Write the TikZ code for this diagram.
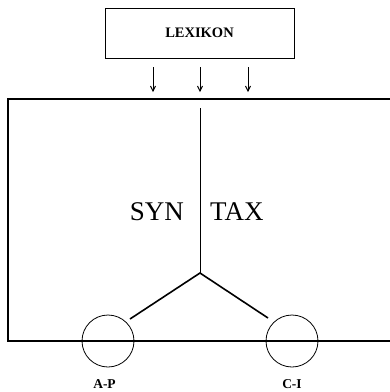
\documentclass[tikz,border=0pt]{standalone}
\usepackage{fontspec}
\setmainfont{Liberation Serif}
\usetikzlibrary{arrows.meta}
\begin{document}
\begin{tikzpicture}[x=1pt,y=-1pt,
  frame/.style={line width=1.3pt},
  arr/.style={-{Straight Barb[length=5pt,width=5pt]},line width=0.9pt},
  ring/.style={circle,draw,line width=0.8pt,minimum size=52pt,inner sep=0pt},
  lbl/.style={font=\fontsize{13.5}{15}\selectfont\bfseries}]
\useasboundingbox (0,0) rectangle (390,392);
\node[draw,line width=0.9pt,minimum width=189pt,minimum height=50pt,inner sep=0pt,font=\fontsize{14.5}{16}\selectfont\bfseries] (lex) at (199.5,33) {LEXIKON};
\coordinate (tl) at (8,99);
\coordinate (tr) at (392,99);
\coordinate (bl) at (8,341);
\coordinate (br) at (392,341);
\draw[frame] (tr) -- (tl) -- (bl) -- (br);
\coordinate (a1s) at (153,67); \coordinate (a1e) at (153,92);
\coordinate (a2s) at (200,67); \coordinate (a2e) at (200,92);
\coordinate (a3s) at (248,67); \coordinate (a3e) at (248,92);
\draw[arr] (a1s) -- (a1e);
\draw[arr] (a2s) -- (a2e);
\draw[arr] (a3s) -- (a3e);
\coordinate (top) at (200,108);
\coordinate (j) at (200,273);
\draw[line width=1pt] (top) -- (j);
\node[anchor=base east,font=\fontsize{27}{30}\selectfont,inner sep=0pt] (syn) at (184,220) {SYN};
\node[anchor=base west,font=\fontsize{27}{30}\selectfont,inner sep=0pt] (tax) at (210,220) {TAX};
\node[ring] (ap) at (108,341) {};
\node[ring] (ci) at (292,341) {};
\coordinate (d1) at (130,319);
\coordinate (d2) at (268,318);
\draw[line width=1.6pt] (d1) -- (j) -- (d2);
\node[lbl] (apl) at (104.5,384) {A-P};
\node[lbl] (cil) at (292,384) {C-I};
\end{tikzpicture}
\end{document}
